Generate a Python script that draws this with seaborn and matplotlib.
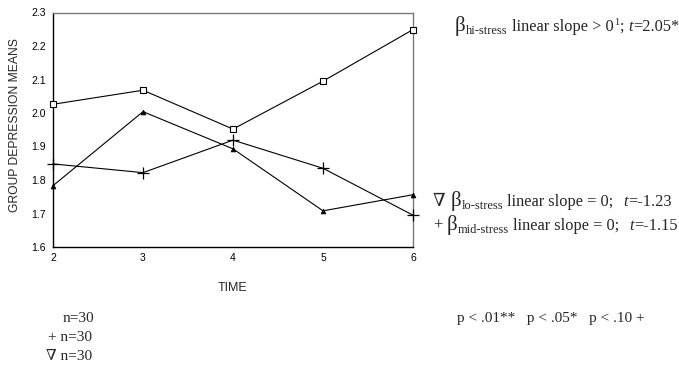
import numpy as np
import matplotlib
matplotlib.use("Agg")
import matplotlib.pyplot as plt
import seaborn as sns
import pandas as pd

# values
time = [2, 3, 4, 5, 6]
hi_stress = [2.026, 2.068, 1.952, 2.095, 2.249]
lo_stress = [1.783, 2.004, 1.893, 1.708, 1.756]
mid_stress = [1.848, 1.822, 1.919, 1.835, 1.695]
y_ticks = [1.6, 1.7, 1.8, 1.9, 2.0, 2.1, 2.2, 2.3]

groups = ["hi-stress", "mid-stress", "lo-stress"]
group_values = [hi_stress, mid_stress, lo_stress]
group_n = [30, 30, 30]
t_values = ["2.05*", "-1.15", "-1.23"]

sns.set_style("white")
SANS = ["Liberation Sans", "DejaVu Sans"]
SERIF = ["Liberation Serif", "DejaVu Serif"]
plt.rcParams["font.family"] = SANS

W, H = 679, 368
fig = plt.figure(figsize=(W / 100, H / 100), dpi=100)
ax = fig.add_axes([53 / W, 1 - 247 / H, 360 / W, 234.5 / H])

df = pd.DataFrame({
    "time": time * len(groups),
    "mean": [v for vals in group_values for v in vals],
    "group": [g for g in groups for _ in time],
})

styles = {
    "hi-stress": dict(marker="s", ms=5, mfc="white", mew=0.8),
    "mid-stress": dict(marker="+", ms=8, mew=0.9),
    "lo-stress": dict(marker="^", ms=3.5, mfc="black", mew=0.5),
}
for g in groups:
    sub = df[df["group"] == g]
    sns.lineplot(data=sub, x="time", y="mean", ax=ax, color="black",
                 linewidth=0.8, mec="black", clip_on=False, zorder=3,
                 **styles[g])

ax.set_xlim(2, 6)
ax.set_ylim(1.6, 2.3)
ax.set_xticks(time)
ax.set_yticks(y_ticks)
ax.set_yticklabels([f"{v:.1f}" for v in y_ticks])
ax.tick_params(axis="both", labelsize=7.5, length=2, width=0.8, pad=2,
               colors="black", direction="out")
ax.tick_params(axis="y", pad=3)

for side in ["left", "bottom"]:
    ax.spines[side].set_color("black")
    ax.spines[side].set_linewidth(1.0)
for side in ["top", "right"]:
    ax.spines[side].set_color("#7a7a7a")
    ax.spines[side].set_linewidth(1.0)
    ax.spines[side].set_visible(True)

ax.set_xlabel("TIME", fontsize=9, va="center")
ax.xaxis.set_label_coords(0.5, -(288 - 247) / 234.5)
ax.set_ylabel("GROUP DEPRESSION MEANS", fontsize=8.7, va="center")
ax.yaxis.set_label_coords((15 - 53) / 360, (247 - 125) / 234.5)


def px(x, y):
    return x / W, 1 - y / H


def rich_line(x, y, parts):
    # parts: (text, size, baseline shift px, gap before px, style)
    r = fig.canvas.get_renderer()
    for s, size, dy, gap, style in parts:
        x += gap
        t = fig.text(*px(x, y - dy), s, fontsize=size, va="baseline",
                     ha="left", family=SERIF, style=style)
        x += t.get_window_extent(r).width


main = 11.8
rich_line(455, 31, [
    ("β", 15, 0, 0, "normal"),
    (groups[0], 9, -3, 0.5, "normal"),
    ("linear slope > 0", main, 0, 4, "normal"),
    ("1", 7.5, 6, 0.5, "normal"),
    (";", main, 0, 0.5, "normal"),
    ("t", main, 0, 4, "italic"),
    ("=" + t_values[0], main, 0, 0.5, "normal"),
])
rich_line(433, 206, [
    ("∇", 13, 0, 0, "normal"),
    ("β", 15, 0, 5, "normal"),
    (groups[2], 9, -3, 0.5, "normal"),
    ("linear slope = 0;", main, 0, 4, "normal"),
    ("t", main, 0, 10, "italic"),
    ("=" + t_values[2], main, 0, 0.5, "normal"),
])
rich_line(433, 230, [
    ("+", main, 0, 0, "normal"),
    ("β", 15, 0, 4, "normal"),
    (groups[1], 9, -3, 0.5, "normal"),
    ("linear slope = 0;", main, 0, 4, "normal"),
    ("t", main, 0, 10, "italic"),
    ("=" + t_values[1], main, 0, 0.5, "normal"),
])

# sample size legend (square glyph missing in the original)
fig.text(*px(63, 322), f"n={group_n[0]}", fontsize=11, family=SERIF, va="baseline")
fig.text(*px(48, 341), f"+ n={group_n[1]}", fontsize=11, family=SERIF, va="baseline")
fig.text(*px(46, 360), f"∇ n={group_n[2]}", fontsize=11, family=SERIF, va="baseline")

fig.text(*px(457, 322), "p < .01**   p < .05*   p < .10 +", fontsize=11,
         family=SERIF, va="baseline")

fig.savefig("out.png", dpi=100)
